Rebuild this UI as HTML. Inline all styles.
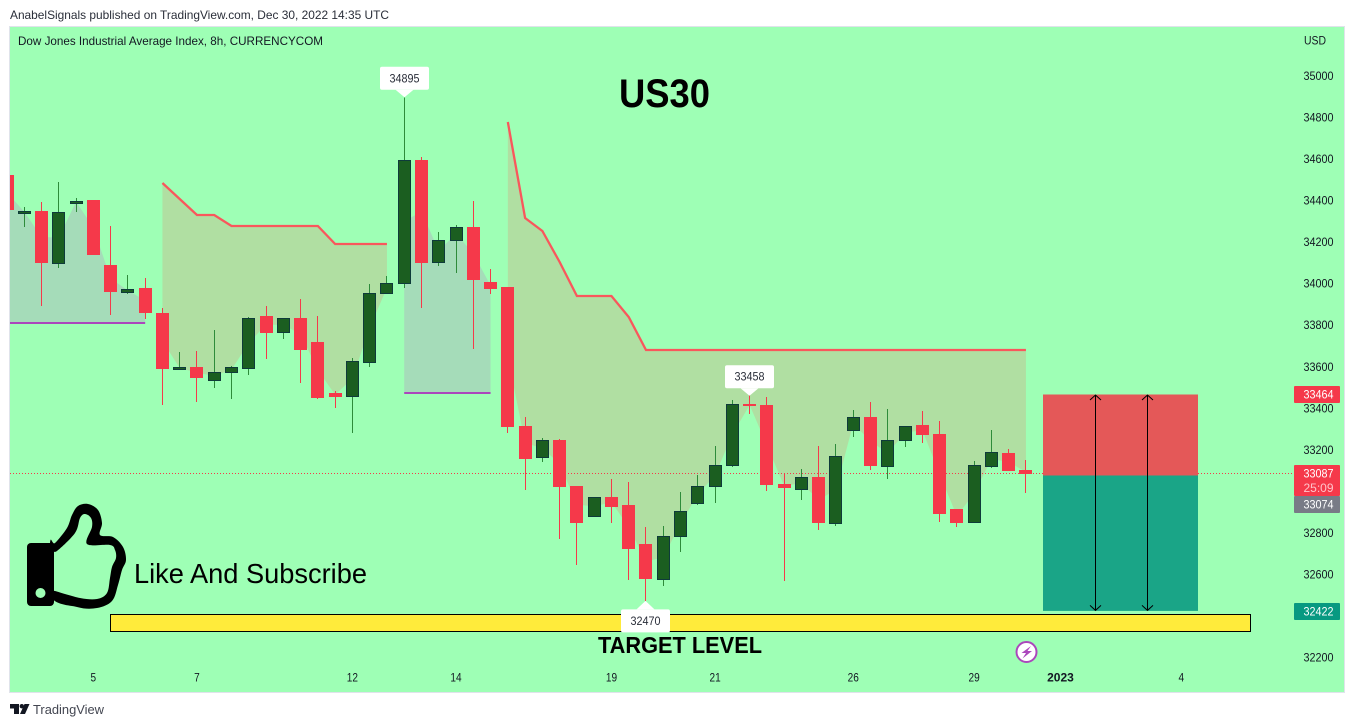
<!DOCTYPE html>
<html lang="en">
<head>
<meta charset="utf-8">
<title>US30 chart</title>
<style>
html,body{margin:0;padding:0;background:#fff;width:1354px;height:727px;overflow:hidden}
svg{display:block;font-family:"Liberation Sans",sans-serif}
text{fill:#131722}
</style>
</head>
<body>
<svg id="chart" xmlns="http://www.w3.org/2000/svg" width="1354" height="727" viewBox="0 0 1354 727">
  <defs><clipPath id="pane"><rect x="10" y="27" width="1334" height="665"/></clipPath></defs>
  <text x="10" y="19" font-size="12" textLength="379" lengthAdjust="spacingAndGlyphs" style="fill:#2a2e39">AnabelSignals published on TradingView.com, Dec 30, 2022 14:35 UTC</text>
  <rect x="9.5" y="26.5" width="1335" height="666" fill="#9effb5" stroke="#e0e3eb"/>
  <g id="series" clip-path="url(#pane)"></g>
  <text x="18" y="45" font-size="12" textLength="305" lengthAdjust="spacingAndGlyphs">Dow Jones Industrial Average Index, 8h, CURRENCYCOM</text>
  <text x="1304" y="44.500" font-size="12" textLength="22" lengthAdjust="spacingAndGlyphs">USD</text>
  <text x="619" y="107" font-size="40" font-weight="700" textLength="91" lengthAdjust="spacingAndGlyphs" style="fill:#000">US30</text>
  <g id="y-axis"></g>
  <g id="x-axis"></g>
  <g id="price-tags"></g>
  <rect x="110.500" y="614.500" width="1140" height="17" fill="#ffeb3b" stroke="#000"/>
  <g id="markers"></g>
  <text x="598" y="653" font-size="23" font-weight="700" textLength="164" lengthAdjust="spacingAndGlyphs" style="fill:#000">TARGET LEVEL</text>
  <text x="134" y="583" font-size="28" textLength="233" lengthAdjust="spacingAndGlyphs" style="fill:#000">Like And Subscribe</text>
  <g>
    <path id="thumb" fill="#000" fill-rule="evenodd"/>
    <rect x="27" y="543" width="27" height="63" rx="4" fill="#000"/>
    <circle cx="40.500" cy="593" r="5" fill="#9effb5"/>
  </g>
  <g>
    <circle cx="1026.500" cy="652" r="10" fill="#fff" stroke="#ab47bc" stroke-width="2"/>
    <path d="M1031 646 L1021.500 653 L1026 653 L1022.500 658.500 L1032 651 L1027.500 651 Z" fill="#ab47bc"/>
  </g>
  <g>
    <path d="M10 704 H19 V714 H14 V708.500 H10 Z" fill="#131722"/>
    <circle cx="21.800" cy="706.200" r="2.200" fill="#131722"/>
    <path d="M24.500 704 H29.500 L25 714 H20 Z" fill="#131722"/>
    <text x="33" y="714" font-size="13" textLength="71" lengthAdjust="spacingAndGlyphs" style="fill:#434651">TradingView</text>
  </g>
</svg>
<script>
// Candle data, 8h bars
const opens  = [34521,34340,34348,34097,34388,34400,34088,33958,33977,33856,33587,33596,33534,33572,33592,33842,33765,33832,33717,33471,33457,33621,33953,34001,34593,34102,34208,34270,34006,33982,33312,33163,33245,33024,32879,32970,32932,32744,32576,32783,32942,33024,33125,33418,33413,33033,33009,33067,32845,33293,33356,33120,33245,33317,33274,32913,32850,33120,33182,33101];
const highs  = [34521,34367,34391,34487,34410,34400,34275,34039,34025,33880,33669,33673,33775,33601,33837,33890,33832,33924,33842,33481,33640,33996,34035,34895,34608,34246,34280,34396,34068,33982,33356,33255,33250,33024,32970,33057,33043,32826,32831,32995,33076,33216,33438,33458,33452,33086,33105,33216,33226,33389,33428,33394,33312,33385,33336,32913,33144,33293,33202,33149];
const lows   = [34352,34270,33890,34073,34343,34136,33847,33948,33827,33413,33582,33428,33495,33442,33558,33635,33731,33519,33442,33399,33279,33596,33948,33977,33880,34083,34049,33683,33948,33279,33004,33139,32768,32643,32874,32845,32571,32470,32542,32706,32932,32942,33115,33370,33000,32566,32956,32812,32831,33259,33100,33057,33211,33230,32850,32826,32850,33110,33096,32990];
const closes = [34352,34348,34097,34343,34396,34136,33958,33972,33856,33587,33596,33543,33572,33596,33832,33760,33832,33678,33447,33454,33625,33953,34001,34593,34097,34208,34270,34015,33972,33307,33153,33245,33019,32845,32970,32922,32720,32576,32783,32903,33024,33125,33418,33409,33028,33014,33067,32845,33168,33356,33120,33245,33312,33269,32889,32845,33125,33187,33096,33081];
// Indicator lines (null = no value for that bar)
const resistanceLine = [null,null,null,null,null,null,null,null,null,34482,34405,34326,34326,34273,34273,34273,34273,34273,34273,34191,34191,34191,34191,null,null,null,null,null,null,34776,34316,34251,34102,33936,33936,33936,33837,33678,33678,33678,33678,33678,33678,33678,33678,33678,33678,33678,33678,33678,33678,33678,33678,33678,33678,33678,33678,33678,33678,33678];
const supportLine = [33808,33808,33808,33808,33808,33808,33808,33808,33808,null,null,null,null,null,null,null,null,null,null,null,null,null,null,33471,33471,33471,33471,33471,33471,null,null,null,null,null,null,null,null,null,null,null,null,null,null,null,null,null,null,null,null,null,null,null,null,null,null,null,null,null,null,null];
// Axis labels
const priceTicks = [35000,34800,34600,34400,34200,34000,33800,33600,33400,33200,33000,32800,32600,32400,32200];
const timeTickBars = [5,11,20,26,35,41,49,56,61,68];
const timeTickLabels = ["5","7","12","14","19","21","26","29","2023","4"];
const boldTimeLabels = ["2023"];
// Last price and position tool
const lastPrice = [33087];
const countdown = ["25:09"];
const positionEntry = [33074];
const positionStop = [33464];
const positionTarget = [32422];
// High / low pins
const pinBars = [23,43,37];
const pinDirections = ["down","down","up"];

const NS = 'http://www.w3.org/2000/svg';
const xOf = i => 7 + 17.27 * i;
const yOf = p => 75.5 + (35000 - p) * 0.20768;
const GREEN_BODY = '#1b5e20', GREEN_BORDER = '#0e3b3a', GREEN_WICK = '#2e8b3a', RED = '#f5394a';

function make(parent, tag, attrs, txt) {
  const el = document.createElementNS(NS, tag);
  for (const k in attrs) el.setAttribute(k, attrs[k]);
  if (txt !== undefined) el.textContent = txt;
  parent.appendChild(el);
  return el;
}
function runs(arr) {
  const out = []; let cur = null;
  arr.forEach((v, i) => {
    if (v === null) { cur = null; return; }
    if (!cur) { cur = []; out.push(cur); }
    cur.push(i);
  });
  return out;
}
const series = document.getElementById('series');
const mid = i => (opens[i] + closes[i]) / 2;
const lineY = p => Math.round(yOf(p));

// Fills
runs(supportLine).forEach(r => {
  const pts = r.map(i => xOf(i) + ',' + yOf(mid(i))).concat(r.slice().reverse().map(i => xOf(i) + ',' + lineY(supportLine[i])));
  const el = make(series, 'polygon', {points: pts.join(' '), fill: '#a5dcb9'});
  
  
});
runs(resistanceLine).forEach(r => {
  const pts = r.map(i => xOf(i) + ',' + lineY(resistanceLine[i])).concat(r.slice().reverse().map(i => xOf(i) + ',' + yOf(mid(i))));
  const el = make(series, 'polygon', {points: pts.join(' '), fill: '#b0dfa2'});
  
  
});
// Lines
runs(supportLine).forEach(r => {
  const el = make(series, 'polyline', {points: r.map(i => xOf(i) + ',' + lineY(supportLine[i])).join(' '), fill: 'none', stroke: '#ab47bc', 'stroke-width': 2});
  
  
});
runs(resistanceLine).forEach(r => {
  const el = make(series, 'polyline', {points: r.map(i => xOf(i) + ',' + lineY(resistanceLine[i])).join(' '), fill: 'none', stroke: '#f9575c', 'stroke-width': 2.3});
  
  
});
// Last price dotted line
const lastLine = make(series, 'line', {x1: 10, x2: 1294, y1: Math.round(yOf(lastPrice[0])) + 0.5, y2: Math.round(yOf(lastPrice[0])) + 0.5, stroke: RED, 'stroke-width': 1, 'stroke-dasharray': '1 2'});



// Candles
opens.forEach((o, i) => {
  const c = closes[i], up = c >= o;
  const px = Math.floor(xOf(i));
  const top = Math.round(yOf(Math.max(o, c))), bot = Math.round(yOf(Math.min(o, c)));
  const wick = make(series, 'rect', {x: px, y: yOf(highs[i]), width: 1, height: Math.max(1, yOf(lows[i]) - yOf(highs[i])), fill: up ? GREEN_WICK : RED, 'shape-rendering': 'crispEdges'});
  
  
  let body;
  if (up) {
    body = make(series, 'rect', {x: px - 5.5, y: top + 0.5, width: 12, height: Math.max(1, bot - top), fill: GREEN_BODY, stroke: GREEN_BORDER, 'stroke-width': 1, 'shape-rendering': 'crispEdges'});
  } else {
    body = make(series, 'rect', {x: px - 6, y: top, width: 13, height: Math.max(2, bot - top), fill: RED, 'shape-rendering': 'crispEdges'});
  }
  
  
});

// Position tool
const posLeft = 1043, posRight = 1198, arrowXs = [1095.5, 1147.5];
const posStop = make(series, 'rect', {x: posLeft, y: yOf(positionStop[0]), width: posRight - posLeft, height: yOf(positionEntry[0]) - yOf(positionStop[0]), fill: '#e45858'});


const posTarget = make(series, 'rect', {x: posLeft, y: yOf(positionEntry[0]), width: posRight - posLeft, height: yOf(positionTarget[0]) - yOf(positionEntry[0]), fill: '#1aa587'});


arrowXs.forEach(ax => {
  const t = yOf(positionStop[0]) + 0.5, b = yOf(positionTarget[0]) - 0.5;
  const arrow = make(series, 'path', {d: `M${ax} ${t} V${b} M${ax - 5.5} ${t + 5} L${ax} ${t} L${ax + 5.5} ${t + 5} M${ax - 5.5} ${b - 5} L${ax} ${b} L${ax + 5.5} ${b - 5}`, fill: 'none', stroke: '#000', 'stroke-width': 1});
  
  
});

// Axes
const yAxis = document.getElementById('y-axis');
priceTicks.forEach(p => {
  const t = make(yAxis, 'text', {x: 1303.5, y: yOf(p) + 4.5, 'font-size': 12, textLength: 30, lengthAdjust: 'spacingAndGlyphs'}, String(p));
  
  
});
const xAxis = document.getElementById('x-axis');
timeTickBars.forEach((b, k) => {
  const label = timeTickLabels[k];
  const bold = boldTimeLabels.includes(label);
  const w = bold ? 26.7 : 5.6 * label.length;
  const t = make(xAxis, 'text', {x: xOf(b) - w / 2, y: 681.5, 'font-size': 12, textLength: w, lengthAdjust: 'spacingAndGlyphs', 'font-weight': bold ? 700 : 400}, label);
  
  
});

// Price tags
const tags = document.getElementById('price-tags');
function tag(top, h, color, lines, name) {
  const r = make(tags, 'rect', {x: 1294, y: top, width: 46, height: h, rx: 1, fill: color});
  
  
  lines.forEach((s, k) => {
    const t = make(tags, 'text', {x: 1303.5, y: top + 12.5 + k * 14.5, 'font-size': 12, textLength: 30, lengthAdjust: 'spacingAndGlyphs', style: 'fill:' + (k ? '#ffc4ca' : '#fff')}, s);
    
    
  });
}
tag(Math.round(yOf(positionStop[0])) - 8, 17, RED, [String(positionStop[0])], 'stop');
tag(Math.round(yOf(lastPrice[0])) - 8, 31, RED, [String(lastPrice[0]), countdown[0]], 'last-price');
tag(Math.round(yOf(lastPrice[0])) + 23, 17, '#787b86', [String(positionEntry[0])], 'entry');
tag(Math.round(yOf(positionTarget[0])) - 8, 17, '#089981', [String(positionTarget[0])], 'target');

// High / low pins
const markers = document.getElementById('markers');
pinBars.forEach((b, k) => {
  const down = pinDirections[k] === 'down';
  const value = down ? highs[b] : lows[b];
  const tipX = Math.floor(xOf(b)) + 0.5, tipY = yOf(value);
  const top = down ? tipY - 30.5 : tipY + 8.5;
  const box = make(markers, 'rect', {x: tipX - 24.5, y: top, width: 49, height: 23, rx: 2, fill: '#fff'});
  
  
  const edge = down ? top + 23 : top;
  const tri = make(markers, 'polygon', {points: `${tipX - 9},${edge} ${tipX + 9},${edge} ${tipX},${tipY}`, fill: '#fff'});
  
  
  const t = make(markers, 'text', {x: tipX - 15, y: top + 15.5, 'font-size': 12, textLength: 30, lengthAdjust: 'spacingAndGlyphs', style: 'fill:#2a2e39'}, String(value));
  
  
});

// Thumbs-up icon contours (decorative)
const thumbOuter = [[50,543],[55,543],[67,528],[72,515],[78,506],[88,504],[98,510],[102,523],[100,535],[113,537],[123,547],[126,560],[122,570],[118,585],[112,601],[97,608],[77,607],[50,595]];
const thumbInner = [[50,553],[57,551],[75,533],[80,518],[85,514],[91,518],[92,527],[87,544],[110,545],[115,550],[116,558],[112,567],[110,578],[107,593],[97,599],[80,598],[55,591],[50,590]];
function smooth(p) {
  const n = p.length;
  let d = `M${p[0][0]} ${p[0][1]} `;
  for (let i = 0; i < n; i++) {
    const a = p[(i + n - 1) % n], b = p[i], c = p[(i + 1) % n], e = p[(i + 2) % n];
    d += `C${b[0] + (c[0] - a[0]) / 6} ${b[1] + (c[1] - a[1]) / 6} ${c[0] - (e[0] - b[0]) / 6} ${c[1] - (e[1] - b[1]) / 6} ${c[0]} ${c[1]} `;
  }
  return d + 'Z ';
}
document.getElementById('thumb').setAttribute('d', smooth(thumbOuter) + smooth(thumbInner));
</script>
</body>
</html>
